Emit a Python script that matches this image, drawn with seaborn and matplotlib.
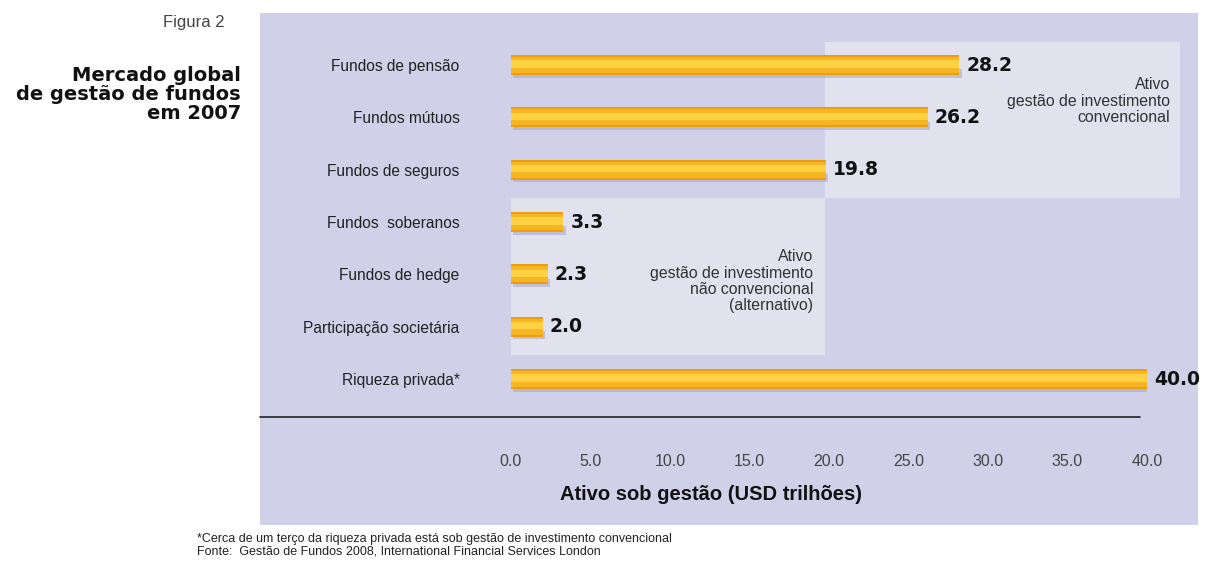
import matplotlib
matplotlib.use("Agg")
import matplotlib.pyplot as plt
import seaborn as sns
import pandas as pd
from matplotlib.patches import Rectangle
from matplotlib.lines import Line2D

# data
categorias = ["Fundos de pensão", "Fundos mútuos", "Fundos de seguros",
              "Fundos  soberanos", "Fundos de hedge", "Participação societária",
              "Riqueza privada*"]
valores = [28.2, 26.2, 19.8, 3.3, 2.3, 2.0, 40.0]
xticks = [0, 5, 10, 15, 20, 25, 30, 35, 40]

df = pd.DataFrame({"cat": categorias, "val": valores})
pos = list(range(len(valores)))

sns.set_theme(style="white")
plt.rcParams["font.family"] = ["Liberation Sans", "DejaVu Sans"]

W, H = 1206, 586
fig = plt.figure(figsize=(W / 100, H / 100), dpi=100)
fig.patch.set_facecolor("white")

# background panel
fig.patches.append(Rectangle((260 / W, 1 - 525 / H), 938 / W, 512 / H,
                             transform=fig.transFigure, facecolor="#d0d1e8",
                             edgecolor="none", zorder=-5))

ax = fig.add_axes([511 / W, 1 - 417 / H, 636 / W, 404 / H])
ax.set_facecolor("none")
ax.set_zorder(2)

# category boxes
ax.add_patch(Rectangle((19.75, -0.44), 22.3, 2.98, facecolor="#e2e2ef",
                       edgecolor="none", clip_on=False, zorder=0))
ax.add_patch(Rectangle((0, 2.54), 19.75, 3.0, facecolor="#e2e2ef",
                       edgecolor="none", clip_on=False, zorder=0))

# soft shadow under the bars
ax.barh([p + 0.16 for p in pos], valores, height=0.16, left=0.15,
        color="#9c98c0", alpha=0.45, linewidth=0, zorder=2)

sns.barplot(data=df, y="cat", x="val", orient="h", color="#eb9f10",
            width=0.38, saturation=1, linewidth=0, ax=ax, zorder=3)
bars = ax.containers[-1]
# glossy bands
ax.barh(pos, valores, height=0.3, color="#f6b624", linewidth=0, zorder=4)
ax.barh([p - 0.02 for p in pos], valores, height=0.14, color="#ffd244",
        linewidth=0, zorder=5)

ax.bar_label(bars, labels=[f"{v:.1f}" for v in valores], padding=5,
             fontsize=13.5, fontweight="bold", family="DejaVu Sans",
             color="#111111")

ax.set_xlim(0, 40)
ax.set_ylim(6.726, -0.994)
ax.set_xticks(xticks)
ax.set_xticklabels([f"{t:.1f}" for t in xticks], fontsize=11.5, color="#444444")
ax.tick_params(axis="x", length=0, pad=27)
ax.tick_params(axis="y", length=0, pad=37, labelsize=11.2, labelcolor="#222222")
ax.set_ylabel("")
ax.set_xlabel("Ativo sob gestão (USD trilhões)", fontsize=14.5,
              fontweight="bold", color="#111111")
ax.xaxis.set_label_coords((711 - 511) / 636, -68 / 404)
for s in ax.spines.values():
    s.set_visible(False)

# axis line
fig.lines.append(Line2D([260 / W, 1140 / W], [1 - 417 / H, 1 - 417 / H],
                        transform=fig.transFigure, color="#222222", lw=1.2))

ax.text(41.45, 0.69, "Ativo\ngestão de investimento\nconvencional",
        ha="right", va="center", fontsize=11.4, color="#333333", linespacing=1.15)
ax.text(19.0, 4.13, "Ativo\ngestão de investimento\nnão convencional\n(alternativo)",
        ha="right", va="center", fontsize=11.4, color="#333333", linespacing=1.1)

fig.text(225 / W, 1 - 22 / H, "Figura 2", ha="right", va="center",
         fontsize=12, color="#444444")
fig.text(241 / W, 1 - 66 / H, "Mercado global\nde gestão de fundos\nem 2007",
         ha="right", va="top", fontsize=14, fontweight="bold",
         family="DejaVu Sans", color="#111111", linespacing=1.0)

fig.text(197 / W, 1 - 533 / H,
         "*Cerca de um terço da riqueza privada está sob gestão de investimento convencional\n"
         "Fonte:  Gestão de Fundos 2008, International Financial Services London",
         ha="left", va="top", fontsize=9, color="#222222", linespacing=1.05)

fig.savefig("out.png", dpi=100)
